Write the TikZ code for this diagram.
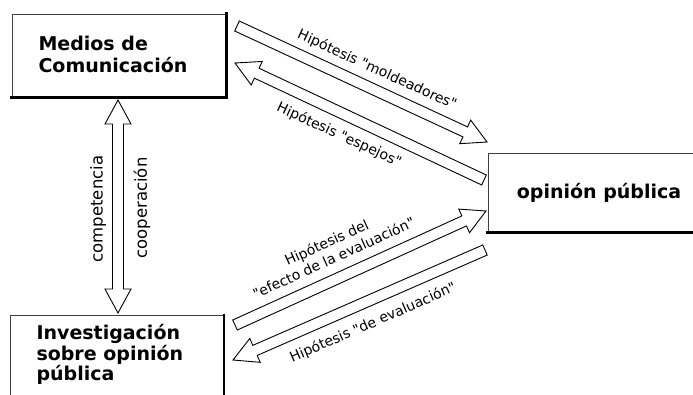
\documentclass[tikz,border=0pt]{standalone}
\usepackage{fontspec}
\setmainfont{DejaVu Sans}
\usetikzlibrary{calc}
% shaft half width, head half width, head length
\newcommand\arrw{5.5pt}
\newcommand\arrW{13pt}
\newcommand\arrL{24pt}
\newcommand\qq[1]{\textquotedbl#1\textquotedbl}
\tikzset{
  frame/.style={draw=black!75,line width=0.9pt,inner sep=0pt},
  heavy/.style={line width=2.6pt,line cap=rect},
  title/.style={font=\bfseries\fontsize{19}{22}\selectfont,align=left},
  hyp/.style={font=\fontsize{14}{17}\selectfont,align=center,inner sep=1pt},
  side/.style={font=\fontsize{16.5}{18}\selectfont,rotate=90,inner sep=1pt},
  hollow/.style={draw=black,line width=0.9pt,fill=white,
    to path={
      ($(\tikztostart)!\arrw!90:(\tikztotarget)$)
      -- ($(\tikztotarget)!\arrL!(\tikztostart)!\arrw!-90:(\tikztostart)$)
      -- ($(\tikztotarget)!\arrL!(\tikztostart)!\arrW!-90:(\tikztostart)$)
      -- (\tikztotarget)
      -- ($(\tikztotarget)!\arrL!(\tikztostart)!\arrW!90:(\tikztostart)$)
      -- ($(\tikztotarget)!\arrL!(\tikztostart)!\arrw!90:(\tikztostart)$)
      -- ($(\tikztostart)!\arrw!-90:(\tikztotarget)$) -- cycle}},
  hollow2/.style={draw=black,line width=0.9pt,fill=white,
    to path={
      (\tikztostart)
      -- ($(\tikztostart)!\arrL!(\tikztotarget)!\arrW!90:(\tikztotarget)$)
      -- ($(\tikztostart)!\arrL!(\tikztotarget)!\arrw!90:(\tikztotarget)$)
      -- ($(\tikztotarget)!\arrL!(\tikztostart)!\arrw!-90:(\tikztostart)$)
      -- ($(\tikztotarget)!\arrL!(\tikztostart)!\arrW!-90:(\tikztostart)$)
      -- (\tikztotarget)
      -- ($(\tikztotarget)!\arrL!(\tikztostart)!\arrW!90:(\tikztostart)$)
      -- ($(\tikztotarget)!\arrL!(\tikztostart)!\arrw!90:(\tikztostart)$)
      -- ($(\tikztostart)!\arrL!(\tikztotarget)!\arrw!-90:(\tikztotarget)$)
      -- ($(\tikztostart)!\arrL!(\tikztotarget)!\arrW!-90:(\tikztotarget)$)
      -- cycle}},
}

\begin{document}
\begin{tikzpicture}[x=1pt,y=-1pt]
\useasboundingbox (0,0) rectangle (693,394);
\clip (0,0) rectangle (693,394);
\fill[white] (0,0) rectangle (693,394);
% the three boxes
\node[frame,minimum width=214pt,minimum height=83pt] (medios) at (119,55.5) {};
\node[title,anchor=west] (mediostxt) at (35,54) {Medios de\\Comunicación};
\node[frame,title,minimum width=222pt,minimum height=79pt] (opinion) at (599,192.5) {opinión pública};
\node[frame,anchor=north west,minimum width=213pt,minimum height=100pt] (invest) at (10,315) {};
\node[title,font=\bfseries\fontsize{19}{18}\selectfont,anchor=north west] (investtxt) at (33,321) {Investigación\\sobre opinión\\pública};
\draw[heavy] (medios.north east) |- (medios.south west);
\draw[heavy] (opinion.south west) -- (opinion.south east);
\draw[heavy] (invest.north east) -- (invest.south east);
% arrow ends
\coordinate (m1) at (237,26);  \coordinate (m2) at (487,142);
\coordinate (e1) at (484,180); \coordinate (e2) at (235,63);
\coordinate (f1) at (235,325); \coordinate (f2) at (486,211);
\coordinate (d1) at (485,250); \coordinate (d2) at (233,360);
\coordinate (v1) at (118,100); \coordinate (v2) at (118,313);
\draw[hollow] (m1) to (m2);
\draw[hollow] (e1) to (e2);
\draw[hollow] (f1) to (f2);
\draw[hollow] (d1) to (d2);
\draw[hollow2] (v1) to (v2);
% labels
\node[hyp,rotate=-24.5] (hmold) at (377,70) {Hipótesis \qq{moldeadores}};
\node[hyp,rotate=-24.5] (hesp) at (339,135) {Hipótesis \qq{espejos}};
\node[hyp,rotate=24.5] (hefecto) at (330,250) {Hipótesis del\\\qq{efecto de la evaluación}};
\node[hyp,rotate=23.6] (heval) at (373,323) {Hipótesis \qq{de evaluación}};
\node[side] (comp) at (98,209) {competencia};
\node[side] (coop) at (142,208) {cooperación};
\end{tikzpicture}
\end{document}
